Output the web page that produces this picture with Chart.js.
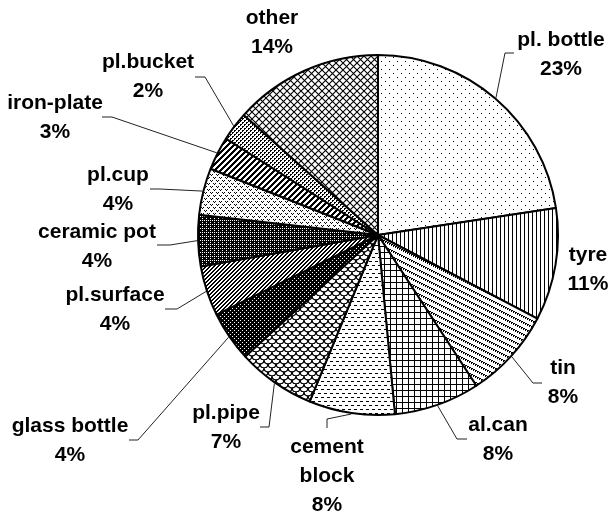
<!DOCTYPE html>
<html>
<head>
<meta charset="utf-8">
<script src="https://cdn.jsdelivr.net/npm/chart.js@4"></script>
<style>
  html, body { margin: 0; padding: 0; background: #fff; }
  #wrap { width: 608px; height: 516px; }
</style>
</head>
<body>
<div id="wrap"><canvas id="wasteChart" width="608" height="516"></canvas></div>
<script>
var categories = ['pl. bottle', 'tyre', 'tin', 'al.can', 'cement block', 'pl.pipe',
    'glass bottle', 'pl.surface', 'ceramic pot', 'pl.cup', 'iron-plate', 'pl.bucket', 'other'];
var shares = [22.6, 10.1, 8.1, 7.7, 7.7, 7.0, 4.5, 4.5, 4.6, 4.2, 3.0, 2.6, 13.4];
// percentages as printed on the chart
var pctLabels = ['23%', '11%', '8%', '8%', '8%', '7%', '4%', '4%', '4%', '4%', '3%', '2%', '14%'];

// label placement: text centre, leader elbow and end (leader starts at slice mid-angle)
var labelLayout = [
    { lines: ['pl. bottle'], x: 561, y: 40, elbow: [505, 53], end: [514, 53] },
    { lines: ['tyre'], x: 588, y: 255 },
    { lines: ['tin'], x: 563, y: 368, elbow: [533, 383], end: [542, 383] },
    { lines: ['al.can'], x: 498, y: 425, elbow: [457, 439], end: [467, 439] },
    { lines: ['cement', 'block'], x: 327, y: 447, elbow: [327, 419], end: [327, 428] },
    { lines: ['pl.pipe'], x: 226, y: 413, elbow: [269, 427], end: [260, 427] },
    { lines: ['glass bottle'], x: 70, y: 426, elbow: [138, 440], end: [129, 440] },
    { lines: ['pl.surface'], x: 115, y: 295, elbow: [177, 309], end: [165, 309] },
    { lines: ['ceramic pot'], x: 97, y: 232, elbow: [170, 245], end: [157, 245] },
    { lines: ['pl.cup'], x: 118, y: 175, elbow: [160, 189], end: [150, 189] },
    { lines: ['iron-plate'], x: 55, y: 103, elbow: [112, 117], end: [102, 117] },
    { lines: ['pl.bucket'], x: 148, y: 62, elbow: [205, 77], end: [195, 77] },
    { lines: ['other'], x: 272, y: 18 }
];

// --- hatch patterns, one per slice ---
function tile(w, h, draw) {
    var c = document.createElement('canvas');
    c.width = w; c.height = h;
    var g = c.getContext('2d');
    g.fillStyle = '#fff';
    g.fillRect(0, 0, w, h);
    g.fillStyle = '#000';
    g.strokeStyle = '#000';
    draw(g, w, h);
    return g.createPattern(c, 'repeat');
}
function px(g, pts) {
    pts.forEach(function (p) { g.fillRect(p[0], p[1], 1, 1); });
}

var patterns = [
    // pl. bottle: sparse dots
    tile(8, 8, function (g) { px(g, [[1, 1], [5, 5]]); }),
    // tyre: vertical lines
    tile(4, 1, function (g) { px(g, [[0, 0]]); }),
    // tin: rows of small backslash ticks drifting down
    tile(12, 6, function (g) {
        for (var k = 0; k < 6; k++) {
            var x = k * 2, y = k;
            px(g, [[x, y % 6], [x + 1, (y + 1) % 6], [x + 1, (y + 2) % 6]]);
        }
    }),
    // al.can: square grid
    tile(6, 6, function (g) { g.fillRect(0, 0, 6, 1); g.fillRect(0, 0, 1, 6); }),
    // cement block: horizontal dashes
    tile(6, 8, function (g) { g.fillRect(0, 1, 3, 1); g.fillRect(3, 5, 3, 1); }),
    // pl.pipe: shingles
    tile(8, 8, function (g) {
        g.lineWidth = 1.5;
        g.beginPath(); g.arc(4, 0, 4, 0, Math.PI); g.stroke();
        g.beginPath(); g.arc(0, 4, 4, 0, Math.PI); g.stroke();
        g.beginPath(); g.arc(8, 4, 4, 0, Math.PI); g.stroke();
    }),
    // glass bottle: dark
    tile(4, 4, function (g) { g.fillRect(0, 0, 4, 4); g.fillStyle = '#fff'; px(g, [[0, 0], [2, 2]]); }),
    // pl.surface: fine upward diagonal
    tile(4, 4, function (g) { px(g, [[3, 0], [2, 1], [1, 2], [0, 3], [0, 0], [3, 1], [2, 2], [1, 3]]); }),
    // ceramic pot: dark
    tile(4, 4, function (g) { g.fillRect(0, 0, 4, 4); g.fillStyle = '#fff'; px(g, [[0, 0], [2, 2], [2, 0]]); }),
    // pl.cup: small confetti
    tile(6, 6, function (g) { px(g, [[0, 0], [2, 0], [1, 1], [3, 3], [5, 3], [4, 4]]); }),
    // iron-plate: wide diagonal stripes
    tile(6, 6, function (g) {
        for (var i = 0; i < 6; i++) { px(g, [[(5 - i + 6) % 6, i], [(6 - i) % 6, i], [(7 - i) % 6, i]]); }
    }),
    // pl.bucket: medium dotted
    tile(4, 4, function (g) { px(g, [[0, 0], [1, 0], [0, 1], [2, 2], [3, 2], [2, 3]]); }),
    // other: diagonal crosshatch
    tile(7, 7, function (g) {
        g.lineWidth = 1.1;
        g.beginPath();
        g.moveTo(-1, -1); g.lineTo(8, 8);
        g.moveTo(8, -1); g.lineTo(-1, 8);
        g.stroke();
    })
];

var labelPlugin = {
    id: 'pieLabels',
    afterDraw: function (chart) {
        var ctx = chart.ctx;
        var arcs = chart.getDatasetMeta(0).data;
        ctx.save();
        ctx.strokeStyle = '#222';
        ctx.lineWidth = 1;
        ctx.fillStyle = '#000';
        ctx.font = 'bold 21px "Liberation Sans", Arial, sans-serif';
        ctx.textAlign = 'center';
        ctx.textBaseline = 'middle';
        arcs.forEach(function (arc, i) {
            var lay = labelLayout[i];
            var p = arc.getProps(['x', 'y', 'startAngle', 'endAngle', 'outerRadius'], true);
            if (lay.elbow) {
                var a = (p.startAngle + p.endAngle) / 2;
                var sx = p.x + Math.cos(a) * (p.outerRadius + 1);
                var sy = p.y + Math.sin(a) * (p.outerRadius + 1);
                ctx.beginPath();
                ctx.moveTo(sx, sy);
                ctx.lineTo(lay.elbow[0], lay.elbow[1]);
                ctx.lineTo(lay.end[0], lay.end[1]);
                ctx.stroke();
            }
            var texts = lay.lines.concat([pctLabels[i]]);
            texts.forEach(function (t, j) {
                ctx.fillText(t, lay.x, lay.y + j * 29);
            });
        });
        ctx.restore();
    }
};

new Chart(document.getElementById('wasteChart').getContext('2d'), {
    type: 'pie',
    data: {
        labels: categories,
        datasets: [{
            data: shares,
            backgroundColor: patterns,
            borderColor: '#000',
            borderWidth: 2,
            radius: 180
        }]
    },
    options: {
        responsive: false,
        animation: false,
        layout: { padding: { left: 198, right: 50, top: 55, bottom: 101 } },
        plugins: {
            legend: { display: false },
            tooltip: { enabled: false }
        }
    },
    plugins: [labelPlugin]
});
</script>
</body>
</html>
